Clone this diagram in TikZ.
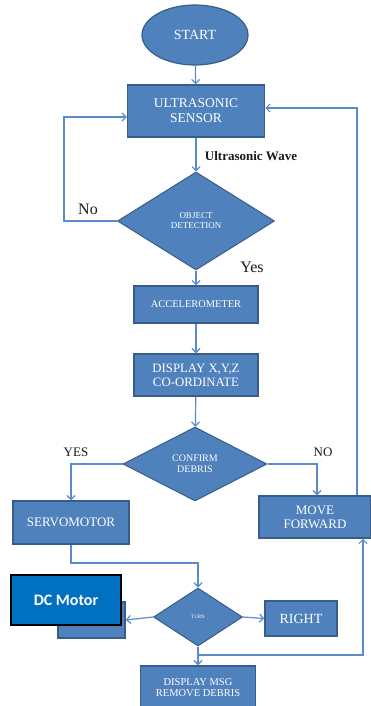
\documentclass[tikz,border=0pt]{standalone}
\usepackage{fontspec}
\setmainfont{Liberation Serif}
\newfontfamily\dcfont{Carlito}
\usetikzlibrary{shapes.geometric,arrows.meta}
\definecolor{boxfill}{HTML}{4F81BD}
\definecolor{boxline}{HTML}{385D8A}
\definecolor{connc}{HTML}{5B8BCB}
\definecolor{dcfill}{HTML}{0070C0}
\definecolor{lbl}{HTML}{1A1A1A}
\tikzset{
  proc/.style={rectangle,draw=boxline,line width=1.5pt,fill=boxfill,text=white,inner sep=0pt,align=center},
  dec/.style={diamond,draw=boxline,line width=1pt,fill=boxfill,text=white,inner sep=0pt,align=center},
  term/.style={ellipse,draw=boxline,line width=1.2pt,fill=boxfill,text=white,inner sep=0pt},
  conn/.style={draw=connc,line width=1.2pt,-{Straight Barb[length=4pt,width=8pt]}},
  lab/.style={text=lbl,inner sep=0pt}
}
\begin{document}
\begin{tikzpicture}[x=1pt,y=-1pt]
\fill[white] (0,0) rectangle (371,706);
\useasboundingbox (0,0) rectangle (371,706);
\begin{scope}
\clip (0,0) rectangle (371,706);
\node[term,minimum width=106pt,minimum height=60pt,font=\fontsize{14}{16}\selectfont] (start) at (195,35) {START};
\node[proc,minimum width=137pt,minimum height=52pt,font=\fontsize{13.5}{15}\selectfont] (us) at (196,111) {ULTRASONIC\\SENSOR};
\node[dec,minimum width=157pt,minimum height=98pt,font=\fontsize{9}{10}\selectfont] (od) at (196,221) {OBJECT\\DETECTION};
\node[proc,minimum width=124pt,minimum height=37pt,font=\fontsize{10.4}{12}\selectfont] (acc) at (196,304.5) {ACCELEROMETER};
\node[proc,minimum width=124pt,minimum height=42pt,font=\fontsize{12.8}{14}\selectfont] (disp) at (196,375) {DISPLAY X,Y,Z\\CO-ORDINATE};
\node[dec,minimum width=144pt,minimum height=74pt,font=\fontsize{10}{11}\selectfont] (cd) at (195,464) {CONFIRM\\DEBRIS};
\node[proc,minimum width=116pt,minimum height=43pt,font=\fontsize{13}{15}\selectfont] (sm) at (71,522.5) {SERVOMOTOR};
\node[proc,minimum width=112pt,minimum height=42pt,font=\fontsize{13}{14}\selectfont] (mf) at (315,517) {MOVE\\FORWARD};
\node[dec,minimum width=89pt,minimum height=58pt,font=\fontsize{5}{6}\selectfont] (turn) at (198,617) {TURN};
\node[proc,minimum width=67pt,minimum height=36pt] (lbox) at (91.5,620) {};
\node[proc,minimum width=72pt,minimum height=35pt,font=\fontsize{14}{16}\selectfont] (right) at (301,618.5) {RIGHT};
\node[proc,minimum width=115pt,minimum height=44pt,font=\fontsize{10.5}{11}\selectfont] (dm) at (198,688) {DISPLAY MSG\\REMOVE DEBRIS};
\node[rectangle,draw=black,line width=2pt,fill=dcfill,text=white,minimum width=110pt,minimum height=50pt,inner sep=0pt,font=\dcfont\bfseries\fontsize{16}{18}\selectfont] (dc) at (66,600) {DC Motor};

\coordinate (noL) at (64,117);
\coordinate (mfR) at (357,108);
\coordinate (nox) at (317,464);
\coordinate (j1) at (198,563);
\coordinate (btm) at (363,655);

\draw[conn] (start) -- (us);
\draw[conn] (us) -- (od);
\draw[conn] (od) -- (acc);
\draw[conn] (acc) -- (disp);
\draw[conn] (disp) -- (cd);
\draw[conn] (od.west) -| (noL) -- (noL -| us.west);
\draw[conn] (mfR |- mf.north) -- (mfR) -- (mfR -| us.east);
\draw[conn] (cd.west) -| (sm.north);
\draw[conn] (cd.east) -- (nox) -- (nox |- mf.north);
\draw[conn] (sm.south) |- (j1) -- (turn.north);
\draw[conn] (turn.west) -- (lbox.east);
\draw[conn] (turn.east) -- (right.west);
\draw[conn] (turn.south) -- (dm.north);
\draw[conn] (btm -| turn.south) -- (btm) -- (btm |- mf.south);

\node[lab,font=\bfseries\fontsize{13}{15}\selectfont] (uw) at (251,156) {Ultrasonic Wave};
\node[lab,font=\fontsize{16}{18}\selectfont] (nolab) at (88,209) {No};
\node[lab,font=\fontsize{16}{18}\selectfont] (yeslab) at (252,267) {Yes};
\node[lab,font=\fontsize{13}{15}\selectfont] (yes2) at (76,452) {YES};
\node[lab,font=\fontsize{13}{15}\selectfont] (no2) at (323,452) {NO};
\end{scope}
\end{tikzpicture}
\end{document}
